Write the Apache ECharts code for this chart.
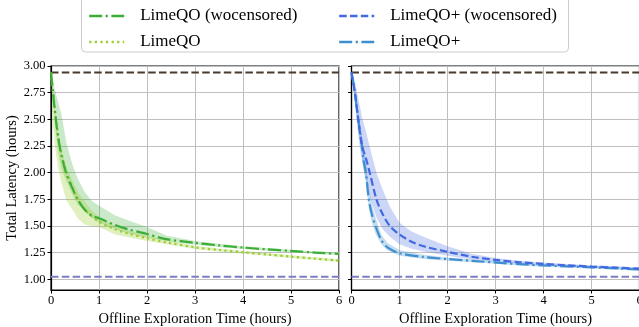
<!DOCTYPE html>
<html><head><meta charset="utf-8">
<script src="https://cdn.jsdelivr.net/npm/echarts@6/dist/echarts.min.js"></script>
<style>html,body{margin:0;padding:0;background:#fff}#c{width:639px;height:327px}</style>
</head><body><div id="c"></div>
<script>
// ---- data ----
const xTicks = [0, 1, 2, 3, 4, 5, 6];
const yTicks = [1.00, 1.25, 1.50, 1.75, 2.00, 2.25, 2.50, 2.75, 3.00];
const upperRef = 2.94;   // top dashed reference line
const lowerRef = 1.025;  // bottom dashed reference line

// left panel
const tL = [0, 0.04, 0.08, 0.15, 0.22, 0.32, 0.45, 0.56, 0.7, 0.84, 1.0, 1.33, 1.6, 2.0, 2.4, 3.0, 3.5, 4.0, 4.5, 5.0, 5.5, 6.0];
const limeWoc     = [2.94, 2.76, 2.58, 2.33, 2.16, 1.99, 1.85, 1.745, 1.655, 1.60, 1.573, 1.51, 1.47, 1.425, 1.377, 1.342, 1.318, 1.298, 1.281, 1.266, 1.251, 1.238];
const limeWocHi   = [2.94, 2.87, 2.78, 2.66, 2.54, 2.28, 2.07, 1.94, 1.82, 1.74, 1.69, 1.60, 1.555, 1.49, 1.41, 1.36, 1.333, 1.311, 1.293, 1.278, 1.263, 1.250];
const limeWocLo   = [2.94, 2.70, 2.45, 2.18, 2.03, 1.92, 1.79, 1.70, 1.64, 1.58, 1.53, 1.47, 1.43, 1.39, 1.36, 1.325, 1.303, 1.285, 1.269, 1.254, 1.239, 1.226];
const lime        = [2.94, 2.77, 2.60, 2.35, 2.18, 2.01, 1.86, 1.75, 1.655, 1.595, 1.54, 1.47, 1.43, 1.385, 1.347, 1.300, 1.275, 1.254, 1.233, 1.213, 1.194, 1.175];
const limeHi      = [2.94, 2.80, 2.58, 2.34, 2.20, 2.06, 1.92, 1.82, 1.73, 1.65, 1.59, 1.50, 1.46, 1.41, 1.37, 1.315, 1.289, 1.267, 1.246, 1.226, 1.207, 1.188];
const limeLo      = [2.94, 2.45, 2.25, 2.04, 1.90, 1.74, 1.65, 1.57, 1.515, 1.50, 1.49, 1.42, 1.395, 1.36, 1.33, 1.285, 1.262, 1.241, 1.220, 1.200, 1.181, 1.162];

// right panel
const tR1 = [0, 0.07, 0.14, 0.22, 0.31, 0.38, 0.52, 0.65, 0.8, 1.0, 1.24, 1.5, 2.0, 2.5, 3.0, 3.5, 4.0, 4.5, 5.0, 5.5, 6.0];
const plusWoc   = [2.94, 2.75, 2.50, 2.25, 2.12, 2.00, 1.75, 1.61, 1.50, 1.42, 1.355, 1.31, 1.258, 1.212, 1.182, 1.160, 1.145, 1.131, 1.120, 1.110, 1.100];
const plusWocHi = [2.94, 2.86, 2.70, 2.52, 2.37, 2.24, 2.00, 1.84, 1.68, 1.53, 1.45, 1.40, 1.31, 1.24, 1.200, 1.175, 1.157, 1.143, 1.132, 1.122, 1.112];
const plusWocLo = [2.94, 2.65, 2.35, 2.10, 1.92, 1.78, 1.58, 1.47, 1.40, 1.33, 1.29, 1.26, 1.22, 1.185, 1.162, 1.145, 1.133, 1.119, 1.108, 1.098, 1.088];
const tR2 = [0, 0.07, 0.14, 0.22, 0.25, 0.30, 0.36, 0.43, 0.5, 0.62, 0.75, 1.0, 1.5, 2.0, 2.7, 3.5, 4.0, 5.0, 6.0];
const plus   = [2.94, 2.75, 2.50, 2.25, 2.12, 2.00, 1.75, 1.60, 1.50, 1.37, 1.30, 1.245, 1.21, 1.19, 1.167, 1.142, 1.130, 1.113, 1.092];
const plusHi = [2.94, 2.80, 2.58, 2.33, 2.22, 2.10, 1.86, 1.70, 1.58, 1.42, 1.34, 1.275, 1.23, 1.205, 1.180, 1.154, 1.142, 1.125, 1.104];
const plusLo = [2.94, 2.70, 2.42, 2.15, 2.03, 1.90, 1.66, 1.52, 1.43, 1.33, 1.27, 1.22, 1.19, 1.175, 1.155, 1.130, 1.118, 1.101, 1.080];

const names = ['LimeQO (wocensored)', 'LimeQO', 'LimeQO+ (wocensored)', 'LimeQO+'];

// ---- styling ----
const FONT = 'Liberation Serif';
const C_WOC = '#3bae37', C_LIME = '#9acd32', C_PWOC = '#4169e1', C_PLUS = '#3f8fcf';
const C_TOP = '#4a3a2b', C_BOT = '#7d7dc6';
const DASHDOT = [13, 3.5, 2.2, 3.5], DOTTED = [2.2, 3.4], DASHED = [7.5, 3.3];
const GRID_C = '#bfbfbf';

const pairs = (t, v) => t.map((x, i) => [x, v[i]]);

function band(t, hi, lo, fill, gi) {
  const rows = t.map((x, i) => [x, lo[i], hi[i]]);
  return {type: 'custom', xAxisIndex: gi, yAxisIndex: gi, data: rows, silent: true, z: 1,
    encode: {x: 0, y: [1, 2]},
    renderItem: (params, api) => {
      if (params.dataIndex !== 0) return {type: 'group', children: []};
      const up = rows.map(r => api.coord([r[0], r[2]]));
      const dn = rows.slice().reverse().map(r => api.coord([r[0], r[1]]));
      return {type: 'polygon', shape: {points: up.concat(dn), smooth: 0}, style: {fill: fill, stroke: null}};
    }};
}
function line(name, t, v, color, type, gi, z) {
  return {type: 'line', name: name, xAxisIndex: gi, yAxisIndex: gi, data: pairs(t, v), symbol: 'none',
    smooth: 0.3, lineStyle: {color: color, width: 2.2, type: type}, itemStyle: {color: color}, z: z};
}
function refLine(v, color, gi) {
  return {type: 'line', xAxisIndex: gi, yAxisIndex: gi, data: [[xTicks[0], v], [xTicks[xTicks.length - 1], v]],
    symbol: 'none', lineStyle: {color: color, width: 2, type: DASHED}, z: 3, silent: true};
}

function xAx(gi) {
  return {type: 'value', gridIndex: gi, min: 0, max: 6, interval: 1,
    name: 'Offline Exploration Time (hours)', nameLocation: 'middle', nameGap: 15,
    nameTextStyle: {fontFamily: FONT, fontSize: 14.5, color: '#000'},
    axisLine: {lineStyle: {color: '#000', width: 1.2}},
    axisTick: {show: true, length: 3.5, lineStyle: {color: '#000', width: 1}},
    axisLabel: {fontFamily: FONT, fontSize: 12.5, color: '#000', margin: 4, hideOverlap: false},
    splitLine: {show: true, lineStyle: {color: GRID_C, width: 1}}};
}
function yAx(gi, labels) {
  return {type: 'value', gridIndex: gi, min: 0.9, max: 3.0,
    name: labels ? 'Total Latency (hours)' : '', nameLocation: 'middle', nameGap: 31,
    nameTextStyle: {fontFamily: FONT, fontSize: 14.5, color: '#000'},
    axisLine: {show: true, lineStyle: {color: '#000', width: 1.2}},
    axisTick: {show: true, length: 3.5, customValues: yTicks, lineStyle: {color: '#000', width: 1}},
    axisLabel: {show: labels, customValues: yTicks, fontFamily: FONT, fontSize: 12.5, color: '#000', margin: 5.5,
      formatter: v => v.toFixed(2)},
    splitLine: {show: true, lineStyle: {color: GRID_C, width: 1}}};
}

function legendItem(name, color, type) {
  return {name: name, itemStyle: {opacity: 0}, lineStyle: {color: color, width: 2.4, type: type}};
}
const legendCommon = {orient: 'vertical', top: 7, padding: 0, itemWidth: 35, itemHeight: 14, itemGap: 8,
  itemStyle: {opacity: 0},
  textStyle: {fontFamily: FONT, fontSize: 17, color: '#000', lineHeight: 18, padding: [0, 0, 0, 11]}, z: 10};

const option = {
  animation: false,
  backgroundColor: '#fff',
  graphic: [{type: 'rect', shape: {x: 81.5, y: -6, width: 487, height: 58, r: 4},
    style: {fill: '#fff', stroke: '#cccccc', lineWidth: 1}, z: 5}],
  legend: [
    Object.assign({}, legendCommon, {left: 88, data: [legendItem(names[0], C_WOC, DASHDOT), legendItem(names[1], C_LIME, DOTTED)]}),
    Object.assign({}, legendCommon, {left: 338, data: [legendItem(names[2], C_PWOC, DASHED), legendItem(names[3], C_PLUS, DASHDOT)]})
  ],
  grid: [
    {left: 51, top: 66, width: 288, height: 224, show: true, borderColor: '#000', borderWidth: 1.2,
     backgroundColor: 'transparent', outerBoundsMode: 'none', containLabel: false},
    {left: 351.5, top: 66, width: 288, height: 224, show: true, borderColor: '#000', borderWidth: 1.2,
     backgroundColor: 'transparent', outerBoundsMode: 'none', containLabel: false}
  ],
  xAxis: [xAx(0), xAx(1)],
  yAxis: [yAx(0, true), yAx(1, false)],
  series: [
    band(tL, limeWocHi, limeWocLo, 'rgba(59,174,55,0.27)', 0),
    band(tL, limeHi, limeLo, 'rgba(154,205,50,0.3)', 0),
    refLine(upperRef, C_TOP, 0), refLine(lowerRef, C_BOT, 0),
    line(names[0], tL, limeWoc, C_WOC, DASHDOT, 0, 5),
    line(names[1], tL, lime, C_LIME, DOTTED, 0, 4),
    band(tR1, plusWocHi, plusWocLo, 'rgba(65,105,225,0.27)', 1),
    band(tR2, plusHi, plusLo, 'rgba(63,143,207,0.3)', 1),
    refLine(upperRef, C_TOP, 1), refLine(lowerRef, C_BOT, 1),
    line(names[2], tR1, plusWoc, C_PWOC, DASHED, 1, 5),
    line(names[3], tR2, plus, C_PLUS, DASHDOT, 1, 4)
  ]
};
const chart = echarts.init(document.getElementById('c'), null, {renderer: 'canvas'});
chart.setOption(option);
</script></body></html>
